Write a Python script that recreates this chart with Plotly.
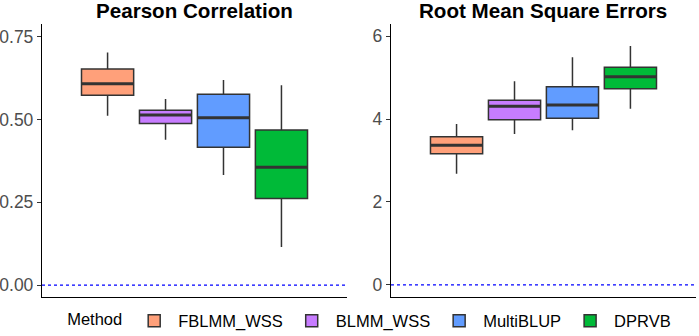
import plotly.graph_objects as go

methods = ["FBLMM_WSS", "BLMM_WSS", "MultiBLUP", "DPRVB"]
colors = ["#FFA07A", "#C77CFF", "#619CFF", "#00BA38"]

# Pearson correlation box stats
pc_low = [0.511, 0.439, 0.332, 0.115]
pc_q1 = [0.573, 0.488, 0.416, 0.261]
pc_med = [0.608, 0.513, 0.505, 0.356]
pc_q3 = [0.652, 0.528, 0.576, 0.468]
pc_high = [0.702, 0.562, 0.619, 0.603]

# RMSE box stats
rm_low = [2.68, 3.64, 3.73, 4.25]
rm_q1 = [3.16, 3.98, 4.02, 4.73]
rm_med = [3.37, 4.31, 4.34, 5.02]
rm_q3 = [3.57, 4.45, 4.78, 5.25]
rm_high = [3.88, 4.91, 5.49, 5.76]

pc_ticks = [0.0, 0.25, 0.5, 0.75]
rm_ticks = [0, 2, 4, 6]

FONT = "Liberation Sans, Arial, sans-serif"
fig = go.Figure()
panels = [
    ("x", "y", pc_low, pc_q1, pc_med, pc_q3, pc_high),
    ("x2", "y2", rm_low, rm_q1, rm_med, rm_q3, rm_high),
]
for p, (xa, ya, lo, q1, med, q3, hi) in enumerate(panels):
    for i, m in enumerate(methods):
        fig.add_trace(go.Box(
            x=["g"], q1=[q1[i]], median=[med[i]], q3=[q3[i]],
            lowerfence=[lo[i]], upperfence=[hi[i]],
            name=m, legendgroup=m, fillcolor=colors[i],
            line=dict(color="#333333", width=1.5), whiskerwidth=0,
            boxpoints=False, offsetgroup=m, hoverinfo="skip",
            xaxis=xa, yaxis=ya, showlegend=(p == 0)))
    # thick median lines (ggplot style) drawn as degenerate boxes
    for i, m in enumerate(methods):
        fig.add_trace(go.Box(
            x=["g"], q1=[med[i]], median=[med[i]], q3=[med[i]],
            lowerfence=[med[i]], upperfence=[med[i]],
            name=m, legendgroup=m, fillcolor="rgba(0,0,0,0)",
            line=dict(color="#333333", width=3), whiskerwidth=0,
            boxpoints=False, offsetgroup=m, hoverinfo="skip",
            xaxis=xa, yaxis=ya, showlegend=False))

axis_common = dict(showline=True, linecolor="black", linewidth=1.3, showgrid=False,
                   zeroline=False, ticks="outside", ticklen=4, tickcolor="#333333",
                   automargin=False,
                   tickfont=dict(family=FONT, size=17.5, color="#4D4D4D"))
xaxis_common = dict(range=[-0.5, 0.5], showticklabels=False, showline=True,
                    linecolor="black", linewidth=1.3, ticks="", showgrid=False,
                    automargin=False)

fig.update_layout(
    width=699, height=336,
    margin=dict(l=42, r=3, t=24, b=39, autoexpand=False),
    plot_bgcolor="white", paper_bgcolor="white",
    boxmode="group", boxgap=0.24, boxgroupgap=0.1,
    xaxis=dict(domain=[0, 0.4664], **xaxis_common),
    xaxis2=dict(domain=[0.5336, 1.0], **xaxis_common),
    yaxis=dict(range=[-0.036, 0.788], tickvals=pc_ticks, tickformat=".2f", anchor="x", **axis_common),
    yaxis2=dict(range=[-0.29, 6.29], tickvals=rm_ticks, anchor="x2", **axis_common),
    legend=dict(orientation="h", x=0.0354, xanchor="left", y=-0.088, yanchor="middle",
                itemwidth=38,
                font=dict(family=FONT, size=16.5, color="black"),
                title=dict(text="Method", side="left",
                           font=dict(family=FONT, size=16.5, color="black"))),
    showlegend=True,
)

for xr, yr in (("x", "y"), ("x2", "y2")):
    fig.add_shape(type="line", xref=f"{xr} domain", yref=yr, x0=0, x1=1, y0=0, y1=0,
                  line=dict(color="blue", width=1.3, dash="dot"))

titles = ["Pearson Correlation", "Root Mean Square Errors"]
for t, xr in zip(titles, ("x", "x2")):
    fig.add_annotation(text=f"<b>{t}</b>", xref=f"{xr} domain", yref="paper",
                       x=0.5, y=1.0, yshift=14, yanchor="middle", showarrow=False,
                       font=dict(family=FONT, size=20.6, color="black"))

fig.write_html("out.html", config={"displayModeBar": False},
               post_script="document.body.style.margin='0';document.body.style.overflow='hidden';")
